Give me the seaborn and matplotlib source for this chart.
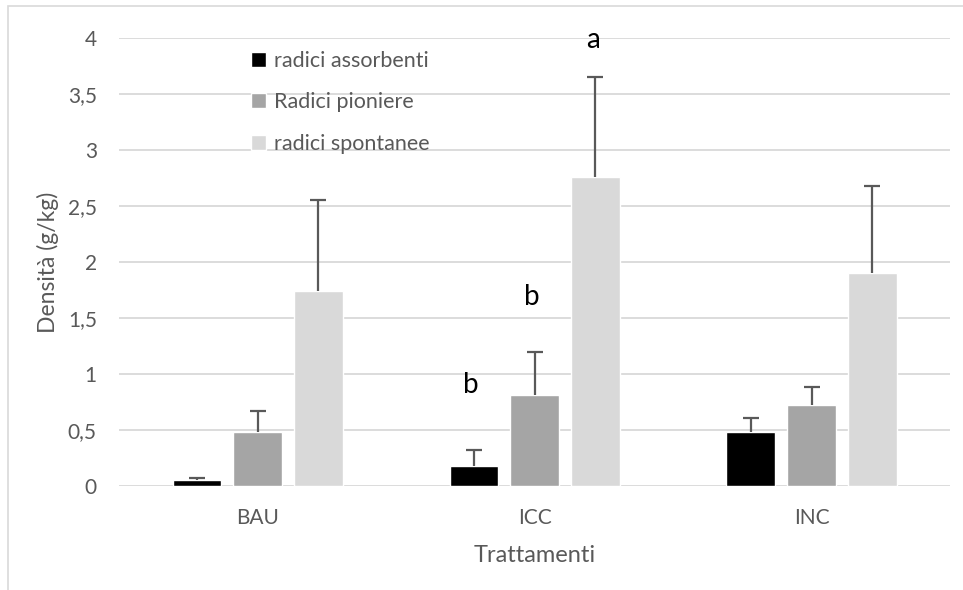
import numpy as np
import pandas as pd
import seaborn as sns
import matplotlib.pyplot as plt
from matplotlib.patches import Rectangle
from matplotlib.ticker import FuncFormatter

# Data
trattamenti = ['BAU', 'ICC', 'INC']
serie = ['radici assorbenti', 'Radici pioniere', 'radici spontanee']
assorbenti = [0.05, 0.18, 0.48]
pioniere = [0.48, 0.81, 0.72]
spontanee = [1.74, 2.76, 1.90]
err_assorbenti = [0.02, 0.14, 0.13]
err_pioniere = [0.19, 0.39, 0.16]
err_spontanee = [0.81, 0.89, 0.78]

# significance letters: (series index, category index, letter, height)
lettere = [(2, 1, 'a', 3.98), (1, 1, 'b', 1.69), (0, 1, 'b', 0.90)]

colori = ['#000000', '#a5a5a5', '#d9d9d9']

df = pd.DataFrame({
    'Trattamenti': trattamenti * 3,
    'Serie': [s for s in serie for _ in trattamenti],
    'Densita': assorbenti + pioniere + spontanee,
})
errori = [err_assorbenti, err_pioniere, err_spontanee]

sns.set_style('white')
plt.rcParams['font.family'] = ['Lato', 'DejaVu Sans']

fig = plt.figure(figsize=(9.63, 5.90), dpi=100)
ax = fig.add_axes([0.1236, 0.1763, 0.8629, 0.7593])

# chart-area border like the spreadsheet frame
fig.patches.append(Rectangle((8 / 963, -0.1), 1.2, 1.0 - 6 / 590 + 0.1,
                             transform=fig.transFigure, fill=False,
                             edgecolor='#d9d9d9', linewidth=1.2, zorder=0))

sns.barplot(data=df, x='Trattamenti', y='Densita', hue='Serie', order=trattamenti,
            hue_order=serie, palette=colori, width=0.66, gap=0.21,
            errorbar=None, saturation=1, ax=ax, zorder=3)

# upward-only error bars
for cont, err in zip(ax.containers, errori):
    xs = [p.get_x() + p.get_width() / 2 for p in cont]
    hs = [p.get_height() for p in cont]
    _, caps, _ = ax.errorbar(xs, hs, yerr=[np.zeros(len(err)), err], fmt='none',
                             ecolor='#595959', elinewidth=1.6, capsize=6,
                             capthick=1.6, zorder=4)
    caps[0].set_visible(False)

for si, ci, lab, h in lettere:
    p = ax.containers[si][ci]
    ax.text(p.get_x() + p.get_width() / 2 - 0.01, h, lab, ha='center', va='center',
            fontsize=20, color='#000000', zorder=5)

ax.set_xlim(-0.5, 2.5)
ax.set_ylim(0, 4)
ax.set_yticks(np.arange(0, 4.01, 0.5))
ax.yaxis.set_major_formatter(FuncFormatter(lambda v, _: ('%g' % v).replace('.', ',')))
ax.grid(axis='y', color='#d9d9d9', linewidth=1.3, zorder=0)
ax.set_axisbelow(True)
for s in ax.spines.values():
    s.set_visible(False)
ax.tick_params(axis='both', length=0, labelsize=15, colors='#595959')
ax.tick_params(axis='y', pad=16)
ax.tick_params(axis='x', pad=16)

ax.set_xlabel('Trattamenti', fontsize=17, color='#595959', labelpad=12)
ax.set_ylabel('Densità (g/kg)', fontsize=16.5, color='#595959', labelpad=6)

leg = ax.legend(loc='upper left', bbox_to_anchor=(0.135, 1.015), frameon=False,
                fontsize=15.5, labelspacing=1.0, handlelength=0.7, handleheight=0.7,
                handletextpad=0.4, labelcolor='#595959')

fig.savefig('out.png', dpi=100)
